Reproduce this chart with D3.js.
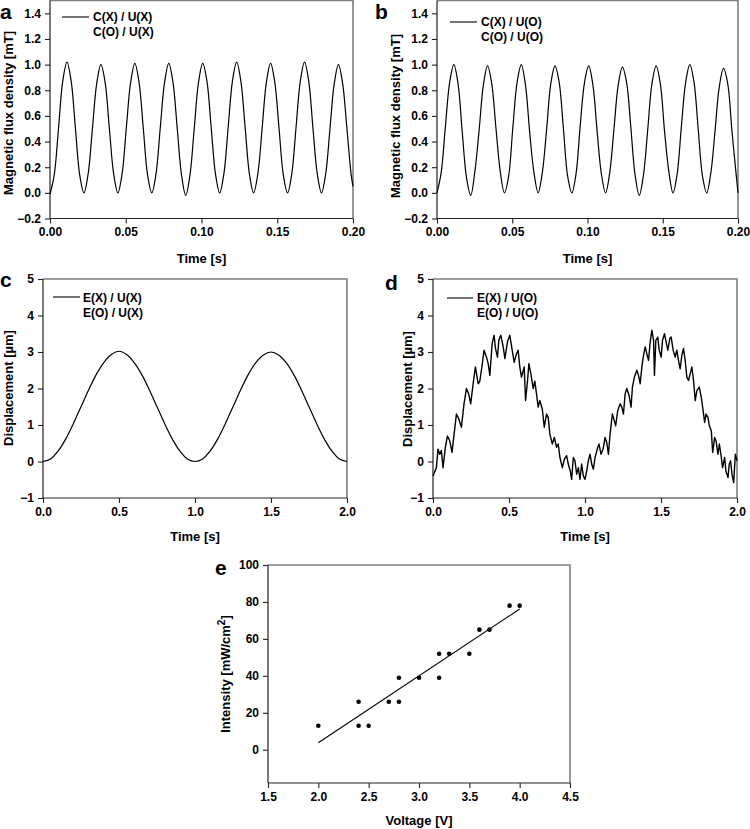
<!DOCTYPE html>
<html><head><meta charset="utf-8">
<script src="https://cdn.jsdelivr.net/npm/d3@7"></script>
<style>
body{margin:0;background:#fff;}
text{font-family:"Liberation Sans",Arial,sans-serif;font-weight:bold;fill:#000;}
</style></head>
<body>
<script>
// ---------- DATA ----------
const abTime = [0.0000,0.0028,0.0056,0.0084,0.0112,0.0140,0.0168,0.0196,0.0224,0.0252,0.0280,0.0308,0.0336,0.0364,0.0392,0.0420,0.0448,0.0476,0.0504,0.0532,0.0560,0.0588,0.0616,0.0644,0.0672,0.0700,0.0728,0.0756,0.0784,0.0812,0.0840,0.0868,0.0896,0.0924,0.0952,0.0980,0.1008,0.1036,0.1064,0.1092,0.1120,0.1148,0.1176,0.1204,0.1232,0.1260,0.1288,0.1316,0.1344,0.1372,0.1400,0.1428,0.1456,0.1484,0.1512,0.1540,0.1568,0.1596,0.1624,0.1652,0.1680,0.1708,0.1736,0.1764,0.1792,0.1820,0.1848,0.1876,0.1904,0.1932,0.1960,0.1988,0.2000];
const fluxA = [-0.01,0.14,0.50,0.87,1.02,0.87,0.50,0.14,
  0.00,0.15,0.50,0.85,1.00,0.86,0.50,0.15,
  0.00,0.15,0.51,0.86,1.01,0.86,0.50,0.14,
  0.00,0.15,0.51,0.86,1.01,0.86,0.50,0.14,
  -0.02,0.14,0.50,0.86,1.01,0.87,0.51,0.15,
  0.00,0.15,0.51,0.87,1.02,0.87,0.51,0.15,
  0.00,0.15,0.50,0.86,1.01,0.86,0.50,0.14,
  0.00,0.15,0.51,0.87,1.02,0.87,0.50,0.15,
  0.00,0.15,0.50,0.85,1.00,0.85,0.50,0.14,0.05];
const fluxB = [0.00,0.16,0.52,0.86,1.00,0.85,0.47,0.12,
  -0.02,0.17,0.49,0.84,0.99,0.85,0.50,0.17,
  0.00,0.13,0.51,0.86,1.00,0.84,0.47,0.16,
  0.00,0.16,0.49,0.85,0.99,0.86,0.50,0.13,
  0.00,0.15,0.53,0.86,0.99,0.84,0.48,0.15,
  0.00,0.16,0.50,0.84,0.98,0.86,0.51,0.14,
  -0.02,0.14,0.49,0.85,0.99,0.85,0.48,0.17,
  0.00,0.15,0.52,0.86,1.00,0.86,0.49,0.13,
  0.00,0.16,0.49,0.83,0.97,0.85,0.48,0.14,0.00];
const cTime = [0,0.05,0.1,0.15,0.2,0.25,0.3,0.35,0.4,0.45,0.5,0.55,0.6,0.65,0.7,0.75,0.8,0.85,0.9,0.95,1.0,1.05,1.1,1.15,1.2,1.25,1.3,1.35,1.4,1.45,1.5,1.55,1.6,1.65,1.7,1.75,1.8,1.85,1.9,1.95,2.0];
const dispC = [0,0.07,0.29,0.62,1.04,1.5,1.96,2.38,2.71,2.93,3.02,2.93,2.71,2.38,1.96,1.5,1.04,0.62,0.29,0.07,0.0,0.07,0.29,0.62,1.04,1.5,1.96,2.38,2.71,2.92,3.0,2.92,2.71,2.38,1.96,1.5,1.04,0.62,0.29,0.07,0.0];
const dTime = [0,0.022,0.033,0.044,0.055,0.066,0.081,0.095,0.110,0.125,0.143,0.154,0.169,0.187,0.204,0.220,0.235,0.248,0.264,0.279,0.297,0.308,0.323,0.336,0.352,0.363,0.374,0.389,0.402,0.411,0.424,0.433,0.446,0.462,0.473,0.490,0.505,0.521,0.534,0.549,0.560,0.571,0.582,0.600,0.609,0.622,0.631,0.644,0.659,0.670,0.681,0.692,0.703,0.719,0.732,0.747,0.758,0.769,0.785,0.798,0.813,0.824,0.835,0.851,0.864,0.879,0.890,0.903,0.912,0.923,0.934,0.945,0.956,0.967,0.978,0.989,1.000,1.011,1.022,1.033,1.044,1.055,1.066,1.084,1.092,1.105,1.119,1.132,1.143,1.154,1.165,1.180,1.193,1.202,1.215,1.231,1.242,1.253,1.264,1.275,1.290,1.303,1.312,1.325,1.341,1.352,1.363,1.374,1.385,1.396,1.407,1.418,1.429,1.440,1.451,1.457,1.466,1.479,1.488,1.501,1.510,1.523,1.536,1.545,1.558,1.567,1.580,1.593,1.604,1.615,1.626,1.637,1.648,1.659,1.670,1.681,1.692,1.703,1.714,1.725,1.736,1.752,1.765,1.774,1.787,1.796,1.809,1.818,1.831,1.840,1.853,1.862,1.875,1.884,1.897,1.905,1.919,1.927,1.941,1.949,1.958,1.967,1.978,1.989,2.000];
const dispD = [-0.40,-0.17,0.34,0.20,0.30,-0.17,0.38,0.70,0.57,0.25,0.90,1.30,1.17,0.94,1.58,2.00,1.85,1.58,2.13,2.59,2.13,2.20,2.63,3.05,2.86,2.68,2.36,3.23,3.46,3.10,2.86,3.32,3.46,3.14,2.82,3.28,3.46,3.05,2.72,2.95,3.05,2.59,2.31,2.59,1.67,2.22,2.68,2.40,2.00,2.20,1.85,1.49,1.67,1.44,0.94,1.30,1.21,0.75,0.48,0.66,0.39,0.48,0.11,-0.17,0.06,0.16,-0.07,-0.26,-0.49,0.11,0.02,-0.35,-0.17,-0.49,-0.07,-0.39,-0.49,-0.26,0.02,0.20,-0.07,-0.21,0.11,0.39,0.48,0.20,0.34,0.66,0.52,0.20,0.75,1.30,1.12,0.98,1.39,1.58,1.49,1.30,1.85,2.00,1.81,1.49,2.04,2.31,2.50,2.36,2.13,2.59,2.91,3.14,2.95,2.77,3.28,3.60,3.32,2.36,3.32,3.41,3.05,2.86,3.32,3.50,3.23,3.05,3.37,3.41,3.05,2.86,3.05,2.77,2.54,2.91,3.10,2.77,2.31,2.22,2.40,2.59,2.22,1.67,1.94,2.04,1.76,1.49,1.07,1.30,1.21,0.98,0.84,0.25,0.66,0.57,0.20,0.48,0.11,-0.17,0.11,-0.26,-0.44,-0.07,0.02,-0.35,-0.58,0.20,0.02];
const voltage = [2.0,2.4,2.4,2.5,2.7,2.8,2.8,3.0,3.2,3.2,3.3,3.5,3.6,3.7,3.9,4.0];
const intensity = [13,26,13,13,26,26,39,39,52,39,52,52,65,65,78,78];

const ticksFlux = [-0.2,0,0.2,0.4,0.6,0.8,1.0,1.2,1.4];
const ticksTimeAB = [0,0.05,0.1,0.15,0.2];
const ticksDisp = [-1,0,1,2,3,4,5];
const ticksTimeCD = [0,0.5,1.0,1.5,2.0];
const ticksInt = [0,20,40,60,80,100];
const ticksVolt = [1.5,2.0,2.5,3.0,3.5,4.0,4.5];

const legendA = ["C(X) / U(X)","C(O) / U(X)"];
const legendB = ["C(X) / U(O)","C(O) / U(O)"];
const legendC = ["E(X) / U(X)","E(O) / U(X)"];
const legendD = ["E(X) / U(O)","E(O) / U(O)"];

// ---------- DRAW ----------
const svg = d3.select("body").append("svg").attr("width",750).attr("height",829);

function panel(c){
  const g = svg.append("g");
  const x = d3.scaleLinear().domain(c.xd).range([c.l,c.r]);
  const y = d3.scaleLinear().domain(c.yd).range([c.b,c.t]);
  g.append("path").attr("d",`M${c.l},${c.t}H${c.r}V${c.b}`).attr("fill","none").attr("stroke","#7d7d7d").attr("stroke-width",1.6);
  const xa = g.append("g").attr("transform",`translate(0,${c.b})`)
    .call(d3.axisBottom(x).tickValues(c.xt).tickFormat(d3.format(c.xf)).tickSizeOuter(0).tickSize(5).tickPadding(4));
  const ya = g.append("g").attr("transform",`translate(${c.l},0)`)
    .call(d3.axisLeft(y).tickValues(c.yt).tickFormat(d3.format(c.yf)).tickSizeOuter(0).tickSize(5).tickPadding(4));
  [xa,ya].forEach(a=>{
    a.selectAll("text").style("font-size","12px").style("font-family","'Liberation Sans',Arial,sans-serif").style("font-weight","bold").attr("fill","#000");
    a.select(".domain").attr("stroke","#222").attr("stroke-width",1.2);
    a.selectAll(".tick line").attr("stroke","#222").attr("stroke-width",1.1);
  });
  ya.select(".domain").attr("d",`M0,${c.b}V${c.t}`);
  xa.select(".domain").attr("d",`M${c.l},0H${c.r}`);
  g.append("text").attr("x",c.letter[0]).attr("y",c.letter[1]).style("font-size","21px").text(c.name);
  g.append("text").attr("x",(c.l+c.r)/2).attr("y",c.xlY).attr("text-anchor","middle").style("font-size","13px").text(c.xlabel);
  const yl = g.append("text").attr("transform",`translate(${c.ylX},${c.ylY}) rotate(-90)`).attr("text-anchor","middle").style("font-size","13px");
  if(c.ylabelSup){
    yl.append("tspan").text(c.ylabel[0]);
    yl.append("tspan").attr("dy",-5).style("font-size","10px").text(c.ylabel[1]);
    yl.append("tspan").attr("dy",5).text(c.ylabel[2]);
  } else yl.text(c.ylabel);
  return {g,x,y};
}

function legend(g,c,items){
  g.append("line").attr("x1",c.lg[0]).attr("x2",c.lg[1]).attr("y1",c.lg[2]).attr("y2",c.lg[2]).attr("stroke","#000").attr("stroke-width",1.1);
  items.forEach((s,i)=>{
    g.append("text").attr("x",c.lg[3]).attr("y",c.lg[4]+i*c.lg[5]).style("font-size","12px").text(s);
  });
}

const cfgA = {name:"a",l:50,r:353,t:0.5,b:218.5,xd:[0,0.2],yd:[-0.2,1.5],xt:ticksTimeAB,yt:ticksFlux,xf:".2f",yf:".1f",
  letter:[0,19],xlabel:"Time [s]",xlY:263,ylabel:"Magnetic flux density [mT]",ylX:13,ylY:113,lg:[62,89,17,93,21,15]};
const cfgB = {name:"b",l:437,r:738,t:0.5,b:218.5,xd:[0,0.2],yd:[-0.2,1.5],xt:ticksTimeAB,yt:ticksFlux,xf:".2f",yf:".1f",
  letter:[375,19],xlabel:"Time [s]",xlY:263,ylabel:"Magnetic flux density [mT]",ylX:400,ylY:116,lg:[450,477,22,481,26,15]};
const cfgC = {name:"c",l:43,r:347,t:279,b:498,xd:[0,2],yd:[-1,5],xt:ticksTimeCD,yt:ticksDisp,xf:".1f",yf:"d",
  letter:[0,287],xlabel:"Time [s]",xlY:541,ylabel:"Displacement [\u00b5m]",ylX:13,ylY:388,lg:[53,80,297,83,302,15]};
const cfgD = {name:"d",l:433,r:737,t:279,b:498,xd:[0,2],yd:[-1,5],xt:ticksTimeCD,yt:ticksDisp,xf:".1f",yf:"d",
  letter:[385,290],xlabel:"Time [s]",xlY:541,ylabel:"Displacement [\u00b5m]",ylX:412,ylY:389,lg:[447,473,298,477,302,15]};
const cfgE = {name:"e",l:268,r:570,t:565,b:783,xd:[1.5,4.5],yd:[-18,100],xt:ticksVolt,yt:ticksInt,xf:".1f",yf:"d",
  letter:[215,575],xlabel:"Voltage [V]",xlY:825,ylabel:["Intensity [mW/cm","2","]"],ylabelSup:true,ylX:230,ylY:674};

function series(p,xs,ys,curve,w){
  const pts = xs.map((t,i)=>[t,ys[i]]);
  p.g.append("path").datum(pts).attr("fill","none").attr("stroke","#000").attr("stroke-width",w)
    .attr("stroke-linejoin","round")
    .attr("d",d3.line().x(d=>p.x(d[0])).y(d=>p.y(d[1])).curve(curve));
}

const pA = panel(cfgA); legend(pA.g,cfgA,legendA); series(pA,abTime,fluxA,d3.curveCatmullRom,1.2);
const pB = panel(cfgB); legend(pB.g,cfgB,legendB); series(pB,abTime,fluxB,d3.curveCatmullRom,1.2);
const pC = panel(cfgC); legend(pC.g,cfgC,legendC); series(pC,cTime,dispC,d3.curveCatmullRom,1.2);
const pD = panel(cfgD); legend(pD.g,cfgD,legendD); series(pD,dTime,dispD,d3.curveLinear,1.4);
const pE = panel(cfgE);
pE.g.selectAll("circle").data(voltage.map((v,i)=>[v,intensity[i]])).join("circle")
  .attr("cx",d=>pE.x(d[0])).attr("cy",d=>pE.y(d[1])).attr("r",2.3).attr("fill","#000");
const mx = d3.mean(voltage), my = d3.mean(intensity);
const slope = d3.sum(voltage,(v,i)=>(v-mx)*(intensity[i]-my))/d3.sum(voltage,v=>(v-mx)*(v-mx));
const icpt = my - slope*mx;
const fitX = d3.extent(voltage);
pE.g.append("line").attr("x1",pE.x(fitX[0])).attr("y1",pE.y(icpt+slope*fitX[0]))
  .attr("x2",pE.x(fitX[1])).attr("y2",pE.y(icpt+slope*fitX[1])).attr("stroke","#000").attr("stroke-width",1.1);
</script>
</body></html>
